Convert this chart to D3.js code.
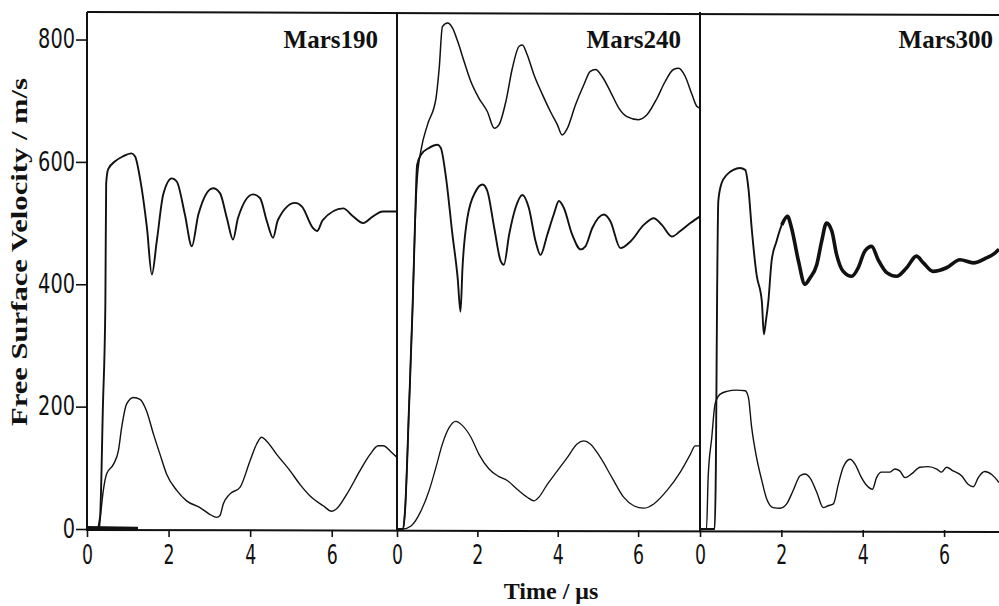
<html>
<head>
<script src="https://d3js.org/d3.v7.min.js"></script>
<style>
  body { margin: 0; background: #fff; }
  .tick text { font-family: "DejaVu Sans Condensed", "DejaVu Sans", sans-serif; font-stretch: condensed; fill: #111; }
</style>
</head>
<body>
<div id="chart_area"></div>
<script>
// ---- data: [time in us, velocity in m/s] ----
let panelNames = ["Mars190", "Mars240", "Mars300"];
let yTicks = [0, 200, 400, 600, 800];
let xTicks = [0, 2, 4, 6];
let panelSpan = [7.6, 7.54, 7.35];   // visible time span of each panel

let mars190Upper = [[0,0],[0.25,1],[0.32,20],[0.39,200],[0.45,367],[0.47,565],[0.52,588],[0.69,601],[0.88,609],[1.09,614],[1.18,609],[1.30,573],[1.47,492],[1.59,416],[1.71,470],[1.87,547],[2.08,573],[2.20,568],[2.40,514],[2.57,462],[2.73,514],[3.09,557],[3.26,549],[3.43,508],[3.58,473],[3.70,508],[4.07,547],[4.24,541],[4.41,503],[4.56,476],[4.68,505],[5.10,533],[5.27,527],[5.54,492],[5.64,487],[5.78,505],[6.28,524],[6.52,511],[6.77,500],[7.01,511],[7.25,519],[7.6,519]];
let mars190Lower = [[0,0],[0.30,1],[0.32,14],[0.40,63],[0.48,90],[0.65,106],[0.77,128],[0.85,166],[0.97,204],[1.14,215],[1.30,212],[1.46,193],[1.63,155],[1.79,122],[1.95,90],[2.20,63],[2.44,46],[2.77,35],[3.01,24],[3.18,19],[3.26,22],[3.34,41],[3.50,57],[3.75,68],[4.0,112],[4.16,139],[4.28,150],[4.40,144],[4.65,122],[4.98,95],[5.22,73],[5.47,54],[5.79,38],[6.0,29],[6.12,33],[6.37,57],[6.69,95],[6.94,122],[7.14,136],[7.26,136],[7.47,125],[7.6,117]];
let mars190Base = [[0,2],[1.25,1]];

let mars240Top = [[0,0],[0.15,0],[0.2,30],[0.3,200],[0.39,367],[0.44,480],[0.5,570],[0.6,620],[0.76,661],[0.97,704],[1.05,753],[1.13,821],[1.26,827],[1.38,819],[1.51,797],[1.67,764],[1.84,731],[2.04,704],[2.25,682],[2.42,655],[2.54,661],[2.71,699],[2.87,753],[3.04,789],[3.12,791],[3.24,775],[3.41,742],[3.62,710],[3.82,682],[3.99,661],[4.11,644],[4.24,655],[4.44,693],[4.65,726],[4.81,748],[4.94,751],[5.10,740],[5.31,715],[5.52,688],[5.72,674],[6.01,669],[6.22,677],[6.47,704],[6.67,731],[6.88,751],[7.01,753],[7.17,740],[7.34,710],[7.46,691],[7.54,688]];
let mars240Mid = [[0,0],[0.15,0],[0.2,30],[0.3,200],[0.39,367],[0.44,480],[0.48,570],[0.5,595],[0.60,612],[0.80,623],[1.01,628],[1.09,623],[1.22,574],[1.38,481],[1.51,410],[1.58,355],[1.63,427],[1.75,508],[1.96,552],[2.13,563],[2.25,552],[2.42,492],[2.58,438],[2.66,432],[2.79,481],[2.95,525],[3.12,546],[3.28,525],[3.45,470],[3.57,448],[3.74,481],[3.90,514],[4.03,536],[4.15,525],[4.36,481],[4.57,457],[4.69,462],[4.86,492],[5.15,514],[5.31,503],[5.56,459],[5.81,470],[6.14,497],[6.39,508],[6.59,497],[6.84,478],[7.05,487],[7.30,500],[7.54,511]];
let mars240Low = [[0,0],[0.14,0],[0.35,5],[0.60,30],[0.80,63],[0.97,101],[1.13,139],[1.30,166],[1.46,176],[1.63,169],[1.84,150],[2.04,122],[2.29,98],[2.50,87],[2.75,79],[2.99,65],[3.24,52],[3.41,46],[3.53,52],[3.74,73],[3.99,95],[4.24,117],[4.48,139],[4.65,144],[4.81,139],[5.06,117],[5.35,84],[5.64,52],[5.89,38],[6.14,34],[6.39,41],[6.72,63],[7.05,93],[7.30,122],[7.42,136],[7.54,136]];

let mars300Upper = [[0,0],[0.36,0],[0.39,100],[0.42,380],[0.45,536],[0.53,565],[0.66,579],[0.82,587],[0.98,590],[1.11,587],[1.19,557],[1.27,492],[1.39,416],[1.52,372],[1.57,318],[1.62,340],[1.68,372],[1.76,438],[1.88,470],[2.01,497],[2.15,511],[2.25,492],[2.42,438],[2.58,400],[2.70,410],[2.87,432],[2.99,470],[3.11,500],[3.24,487],[3.36,448],[3.52,421],[3.73,413],[3.89,427],[4.05,454],[4.22,462],[4.38,440],[4.59,419],[4.83,413],[5.08,427],[5.32,446],[5.49,435],[5.73,421],[6.06,427],[6.39,440],[6.72,435],[7.04,443],[7.25,451],[7.35,457]];
let mars300Lower = [[0,0],[0.16,0],[0.20,84],[0.29,150],[0.37,204],[0.49,220],[0.66,225],[0.90,227],[1.11,226],[1.19,215],[1.27,166],[1.39,117],[1.52,79],[1.64,49],[1.80,35],[1.97,34],[2.13,41],[2.29,63],[2.46,87],[2.58,90],[2.70,84],[2.87,60],[3.03,35],[3.15,38],[3.28,41],[3.40,73],[3.52,101],[3.69,114],[3.81,106],[3.97,84],[4.10,71],[4.24,65],[4.34,84],[4.46,93],[4.67,93],[4.79,98],[4.91,95],[5.04,84],[5.20,90],[5.41,101],[5.61,102],[5.82,98],[5.94,93],[6.06,101],[6.22,95],[6.43,87],[6.59,73],[6.72,69],[6.84,84],[7.00,94],[7.17,89],[7.35,76]];

// ---- layout ----
let width = 999;
let height = 606;
let panelLeft = [87, 397, 700];
let panelRight = [397, 700, 999];
let plotTop = 12, plotBottom = 530;

let svg = d3.select("#chart_area").append("svg")
    .attr("width", width)
    .attr("height", height);

let y = d3.scaleLinear().domain([0, 845]).range([plotBottom - 1, plotTop]);

let xScales = panelNames.map((n, i) =>
    d3.scaleLinear().domain([0, panelSpan[i]]).range([panelLeft[i], panelRight[i]]));

// series per panel, with stroke width (Mars300 trace gets thicker after the first dip)
let series = [
    [ {d: mars190Base, w: 3.5}, {d: mars190Lower, w: 1.4}, {d: mars190Upper, w: 1.9} ],
    [ {d: mars240Low, w: 1.3}, {d: mars240Top, w: 1.5}, {d: mars240Mid, w: 1.9} ],
    [ {d: mars300Lower, w: 1.4}, {d: mars300Upper, w: 1.9},
      {d: mars300Upper.filter(p => p[0] >= 1.95), w: 3.6} ]
];

svg.append("clipPath").attr("id", "clip")
    .append("rect").attr("x", 0).attr("y", 0).attr("width", width).attr("height", height);

// frame
let frame = svg.append("g").attr("stroke", "#111").attr("stroke-width", 2).attr("fill", "none");
frame.append("line").attr("x1", panelLeft[0]).attr("x2", width).attr("y1", plotTop).attr("y2", plotTop + 3);
frame.append("line").attr("x1", panelLeft[0]).attr("x2", width).attr("y1", plotBottom).attr("y2", plotBottom + 2);
panelLeft.forEach(px => {
    frame.append("line").attr("x1", px).attr("x2", px).attr("y1", plotTop).attr("y2", plotBottom + 1);
});

// curves
panelNames.forEach((name, i) => {
    let x = xScales[i];
    let line = d3.line()
        .x(d => x(d[0]))
        .y(d => y(d[1]))
        .curve(d3.curveMonotoneX);

    svg.append("g").attr("clip-path", "url(#clip)")
        .selectAll("path")
        .data(series[i])
        .join("path")
            .attr("d", s => line(s.d))
            .attr("fill", "none")
            .attr("stroke", "#111")
            .attr("stroke-width", s => s.w)
            .attr("stroke-linejoin", "round");

    // x axis for this panel
    let xAxis = svg.append("g")
        .attr("transform", `translate(0,${plotBottom})`)
        .call(d3.axisBottom(x).tickValues(xTicks).tickSize(7).tickPadding(8).tickFormat(d3.format("d")));
    xAxis.select(".domain").remove();
    xAxis.selectAll(".tick line").attr("stroke", "#111").attr("stroke-width", 1.6);
    xAxis.selectAll(".tick text")
        .style("font-size", "27px")
        .attr("textLength", d => String(d).length * 11)
        .attr("lengthAdjust", "spacingAndGlyphs");

    // panel label
    svg.append("text")
        .attr("x", panelRight[i] - (i == 2 ? 6 : 19))
        .attr("y", 48)
        .attr("text-anchor", "end")
        .style("font-family", "'Liberation Serif', 'Times New Roman', serif")
        .style("font-weight", "bold")
        .style("font-size", "25px")
        .attr("fill", "#111")
        .text(name);
});

// y axis
let yAxis = svg.append("g")
    .attr("transform", `translate(${panelLeft[0]},0)`)
    .call(d3.axisLeft(y).tickValues(yTicks).tickSize(11).tickPadding(1));
yAxis.select(".domain").remove();
yAxis.selectAll(".tick line").attr("stroke", "#111").attr("stroke-width", 1.6);
yAxis.selectAll(".tick text")
    .style("font-size", "26px")
    .attr("textLength", d => String(d).length * 12.3)
    .attr("lengthAdjust", "spacingAndGlyphs");

// axis titles
svg.append("text")
    .attr("transform", "translate(27,252) rotate(-90)")
    .attr("text-anchor", "middle")
    .attr("textLength", 348)
    .attr("lengthAdjust", "spacingAndGlyphs")
    .style("font-family", "'Liberation Serif', 'Times New Roman', serif")
    .style("font-weight", "bold")
    .style("font-size", "23px")
    .attr("fill", "#111")
    .text("Free Surface Velocity / m/s");

svg.append("text")
    .attr("x", 551)
    .attr("y", 599)
    .attr("text-anchor", "middle")
    .style("font-family", "'Liberation Serif', 'Times New Roman', serif")
    .style("font-weight", "bold")
    .style("font-size", "24px")
    .attr("fill", "#111")
    .text("Time / μs");
</script>
</body>
</html>
